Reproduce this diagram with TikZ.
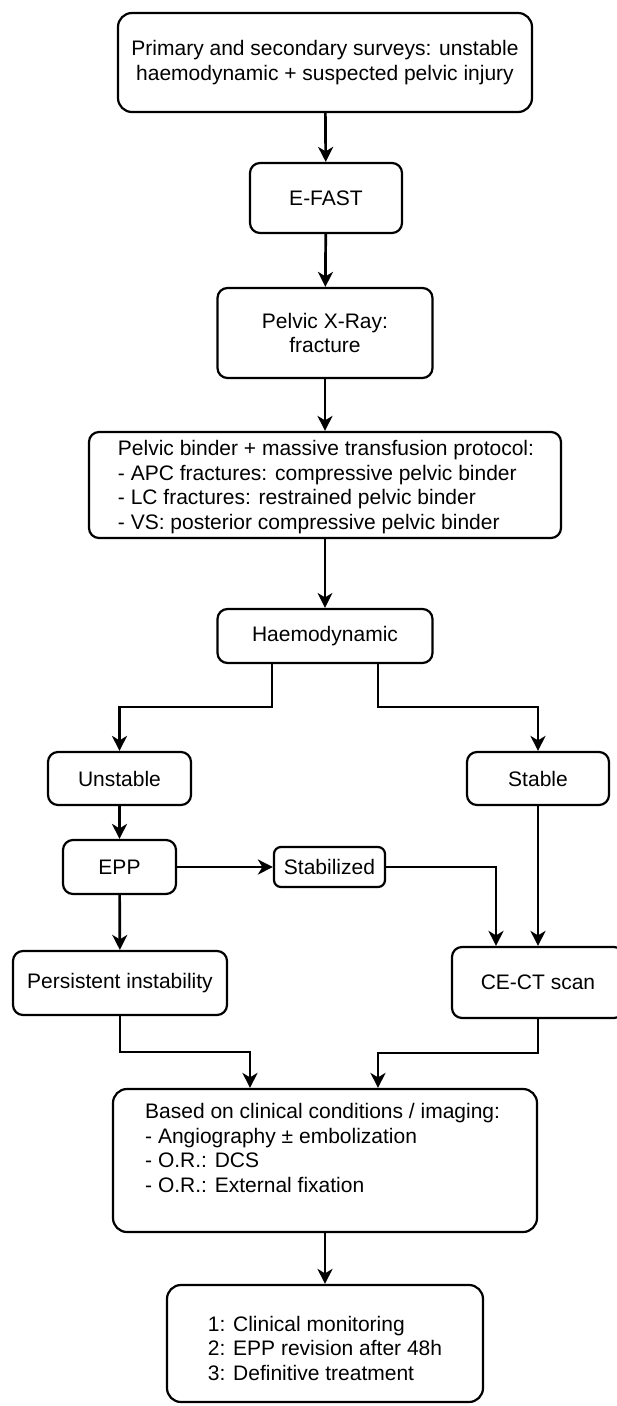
\documentclass[tikz,border=0pt]{standalone}
\usepackage{fontspec}
\setmainfont{Liberation Sans}
\usetikzlibrary{arrows.meta}
\newcommand{\fs}{\fontsize{21}{24.5}\selectfont}
\begin{document}
\begin{tikzpicture}[x=1pt,y=-1pt,
  box/.style={draw, line width=2.2pt, rounded corners=10pt, align=center, inner sep=0pt, font=\fs},
  txt/.style={inner sep=0pt, align=left, font=\fs},
  arr/.style={-{Stealth[length=15pt,width=15pt,inset=4.5pt]}, line width=2.7pt},
  thinarr/.style={-{Stealth[length=15pt,width=15pt,inset=4.5pt]}, line width=1.5pt}]
\clip (0,0) rectangle (617,1406);

\node[box, rounded corners=14pt, minimum width=414, minimum height=99] (top) at (325,62.5)
  {Primary and secondary surveys: unstable\\haemodynamic + suspected pelvic injury};
\node[box, minimum width=152, minimum height=70] (efast) at (326,198) {E-FAST};
\node[box, minimum width=215, minimum height=90] (xray) at (325,333) {Pelvic X-Ray:\\fracture};
\node[box, minimum width=472, minimum height=106] (binder) at (325,485) {};
\node[txt] (bindertxt) at (326,487)
  {Pelvic binder + massive transfusion protocol:\\
   - APC fractures: compressive pelvic binder\\
   - LC fractures: restrained pelvic binder\\
   - VS: posterior compressive pelvic binder};
\node[box, minimum width=215, minimum height=54] (haemo) at (325,636) {Haemodynamic};
\node[box, minimum width=143, minimum height=53] (unstable) at (119.5,778.5) {Unstable};
\node[box, minimum width=142, minimum height=53] (stable) at (538,778.5) {Stable};
\node[box, minimum width=113, minimum height=54] (epp) at (119.5,867) {EPP};
\node[box, rounded corners=7pt, minimum width=111, minimum height=40] (stab) at (329.5,867) {Stabilized};
\node[box, minimum width=214, minimum height=64] (persist) at (120,983) {Persistent instability};
\node[box, minimum width=172, minimum height=71] (cect) at (538,982.5) {CE-CT scan};
\node[box, rounded corners=14pt, minimum width=424, minimum height=143] (based) at (325,1160.5) {};
\node[txt, anchor=north west] (basedtxt) at (145,1103.5)
  {Based on clinical conditions / imaging:\\
   - Angiography \textpm{} embolization\\
   - O.R.: DCS\\
   - O.R.: External fixation};
\node[box, rounded corners=14pt, minimum width=316, minimum height=117] (final) at (325,1343.5) {};
\node[txt] (finaltxt) at (325,1348)
  {1: Clinical monitoring\\
   2: EPP revision after 48h\\
   3: Definitive treatment};

\coordinate (h1) at (272,707);
\coordinate (h2) at (378,707);
\coordinate (p1) at (250,1052);
\coordinate (p2) at (378,1053);

\draw[arr] (top) -- (efast);
\draw[arr] (efast) -- (xray);
\draw[arr] (xray) -- (binder);
\draw[thinarr] (binder) -- (haemo);
\draw[arr] (haemo.south -| h1) -- (h1) -| (unstable.north);
\draw[arr] (haemo.south -| h2) -- (h2) -| (stable.north);
\draw[arr] (unstable) -- (epp);
\draw[arr] (epp) -- (stab);
\draw[arr] (stab.east) -| ([xshift=-42pt]cect.north);
\draw[arr] (stable) -- (cect.north);
\draw[arr] (epp) -- (persist);
\draw[arr] (persist.south) |- (p1) -- (p1 |- based.north);
\draw[arr] (cect.south) |- (p2) -- (p2 |- based.north);
\draw[arr] (based) -- (final);
\end{tikzpicture}
\end{document}
